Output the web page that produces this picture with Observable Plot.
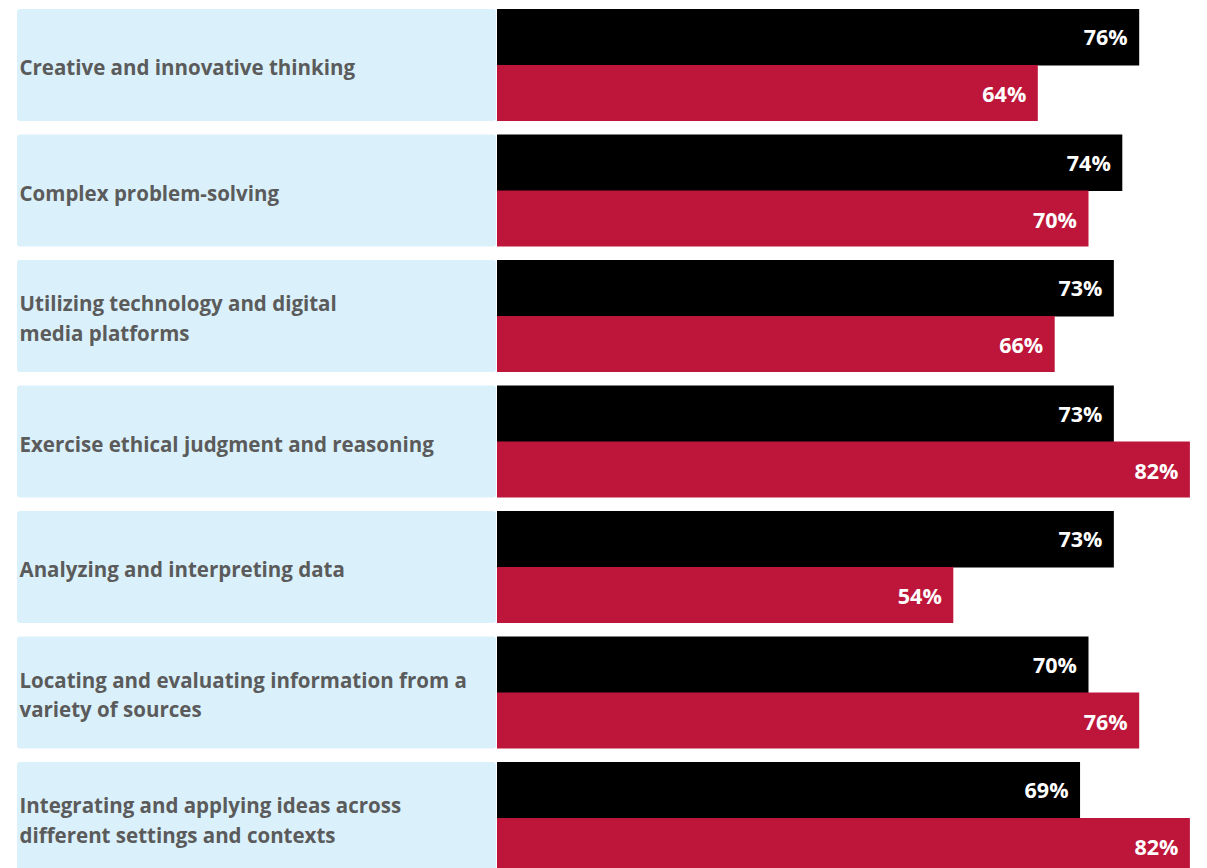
<!DOCTYPE html>
<html>
<head>
<meta charset="utf-8">
<script src="https://cdn.jsdelivr.net/npm/d3@7"></script>
<script src="https://cdn.jsdelivr.net/npm/@observablehq/plot@0.6"></script>
<style>
  html, body { margin: 0; padding: 0; background: #ffffff; }
  #chart svg { display: block; }
</style>
</head>
<body>
<div id="chart"></div>
<script>
const categories = [
  "Creative and innovative thinking",
  "Complex problem-solving",
  "Utilizing technology and digital\nmedia platforms",
  "Exercise ethical judgment and reasoning",
  "Analyzing and interpreting data",
  "Locating and evaluating information from a\nvariety of sources",
  "Integrating and applying ideas across\ndifferent settings and contexts"
];
const seriesBlack = [76, 74, 73, 73, 73, 70, 69];
const seriesRed = [64, 70, 66, 82, 54, 76, 82];

const blackData = categories.map((c, i) => ({category: c, value: seriesBlack[i]}));
const redData = categories.map((c, i) => ({category: c, value: seriesRed[i]}));
const panelData = categories.map(c => ({category: c}));

const barH = 56;
const chart = Plot.plot({
  width: 1207,
  height: 868,
  margin: 0,
  style: {background: "#ffffff", overflow: "visible"},
  x: {domain: [0, 100], range: [497, 1342], axis: null},
  y: {domain: categories, range: [2.25, 880.75], paddingInner: 0.1076, paddingOuter: 0.0538, align: 0.5, round: false, axis: null},
  marks: [
    Plot.barX(panelData, {x1: 0, x2: 0, y: "category", fill: "#daf1fc", insetLeft: -480, insetRight: 1, rx: 3}),
    Plot.barX(blackData, {x: "value", y: "category", fill: "#000000", insetBottom: barH - 0.5}),
    Plot.barX(redData, {x: "value", y: "category", fill: "#be163a", insetTop: barH}),
    Plot.text(panelData, {
      x: 0, y: "category", text: "category", textAnchor: "start", dx: -478,
      fill: "#5b5b5b", fontSize: 20.5, fontWeight: "bold", fontFamily: "'Open Sans', Lato, sans-serif",
      lineHeight: 1.45
    }),
    Plot.text(blackData, {
      x: "value", y: "category", text: d => d.value + "%", textAnchor: "end", dx: -12, dy: -27,
      fill: "#ffffff", fontSize: 21.5, fontWeight: "bold", fontFamily: "'Open Sans', Lato, sans-serif"
    }),
    Plot.text(redData, {
      x: "value", y: "category", text: d => d.value + "%", textAnchor: "end", dx: -12, dy: 30,
      fill: "#ffffff", fontSize: 21.5, fontWeight: "bold", fontFamily: "'Open Sans', Lato, sans-serif"
    })
  ]
});
document.getElementById("chart").appendChild(chart);
</script>
</body>
</html>
